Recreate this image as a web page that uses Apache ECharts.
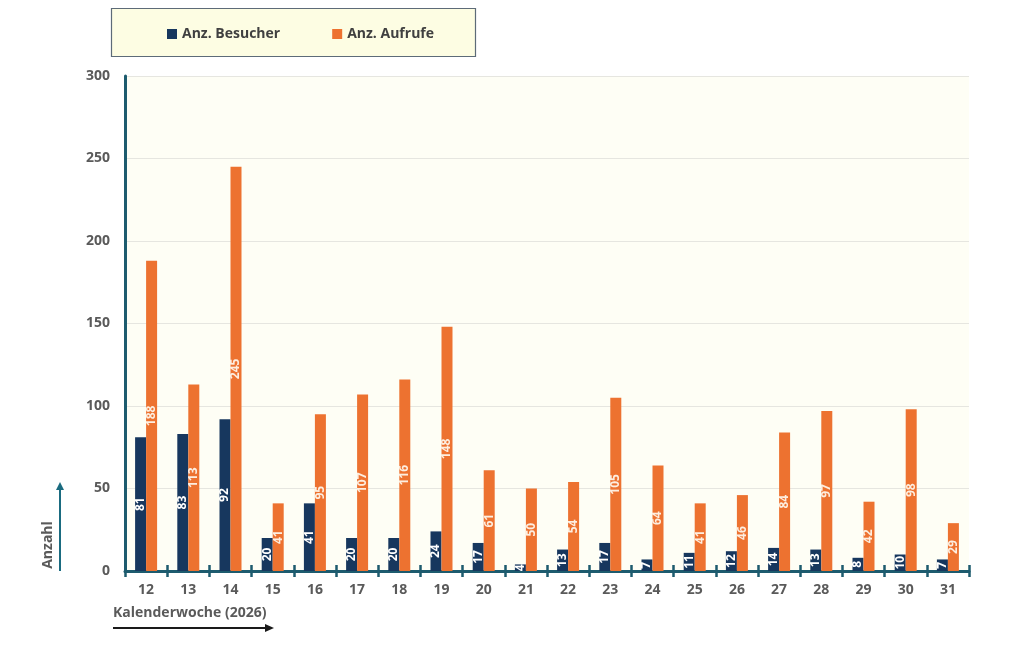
<!DOCTYPE html>
<html>
<head>
<meta charset="utf-8">
<script src="https://cdn.jsdelivr.net/npm/echarts@6/dist/echarts.min.js"></script>
<style>
  html, body { margin: 0; padding: 0; background: #fff; }
  #chart { width: 1024px; height: 662px; }
</style>
</head>
<body>
<div id="chart"></div>
<script>
  var weeks = ['12', '13', '14', '15', '16', '17', '18', '19', '20', '21', '22', '23', '24', '25', '26', '27', '28', '29', '30', '31'];
  var besucher = [81, 83, 92, 20, 41, 20, 20, 24, 17, 4, 13, 17, 7, 11, 12, 14, 13, 8, 10, 7];
  var aufrufe = [188, 113, 245, 41, 95, 107, 116, 148, 61, 50, 54, 105, 64, 41, 46, 84, 97, 42, 98, 29];

  var axisColor = '#1d5b6e';
  var textGray = '#5a5a5a';
  var font = '"Open Sans", Roboto, sans-serif';

  function barLabel(color) {
    return {
      show: true,
      position: 'inside',
      rotate: 90,
      color: color,
      fontFamily: font,
      fontWeight: 'bold',
      fontSize: 12
    };
  }

  var chart = echarts.init(document.getElementById('chart'));
  chart.setOption({
    animation: false,
    textStyle: { fontFamily: font },
    grid: {
      left: 125, right: 55, top: 76, bottom: 91,
      show: true, backgroundColor: '#fefef5', borderWidth: 0
    },
    legend: {
      left: 162, top: 22,
      itemWidth: 10, itemHeight: 10, itemGap: 52,
      icon: 'rect',
      textStyle: { color: '#404040', fontWeight: 'bold', fontSize: 14, fontFamily: font },
      data: ['Anz. Besucher', 'Anz. Aufrufe']
    },
    xAxis: [{
      type: 'category',
      data: weeks,
      axisLine: { lineStyle: { color: axisColor, width: 3 } },
      axisTick: { show: true, length: 6, lineStyle: { color: axisColor, width: 2.5 } },
      axisLabel: { color: textGray, fontWeight: 'bold', fontSize: 14, margin: 12 }
    }, {
      type: 'category',
      data: weeks,
      position: 'bottom',
      axisLine: { show: false },
      axisTick: { show: true, inside: true, length: 6, lineStyle: { color: axisColor, width: 2.5 } },
      axisLabel: { show: false }
    }],
    yAxis: {
      type: 'value',
      min: 0, max: 300, interval: 50,
      axisLine: { show: true, lineStyle: { color: axisColor, width: 3 } },
      axisTick: { show: false },
      axisLabel: { color: textGray, fontWeight: 'bold', fontSize: 14, margin: 15 },
      splitLine: { lineStyle: { color: '#e6e6e0', width: 1 } }
    },
    graphic: [
      {
        type: 'rect', z: -1,
        shape: { x: 111.5, y: 8.5, width: 364, height: 48 },
        style: { fill: '#fdfde3', stroke: '#5d6b78', lineWidth: 1.2 }
      },
      {
        type: 'text',
        x: 48, y: 545, rotation: Math.PI / 2,
        style: { text: 'Anzahl', fill: textGray, font: 'bold 14px ' + font, align: 'center', verticalAlign: 'middle' }
      },
      {
        type: 'line',
        shape: { x1: 60, y1: 571, x2: 60, y2: 488 },
        style: { stroke: '#1a6b80', lineWidth: 2 }
      },
      {
        type: 'polygon',
        shape: { points: [[56, 490], [64, 490], [60, 482]] },
        style: { fill: '#1a6b80' }
      },
      {
        type: 'text',
        x: 113, y: 613,
        style: { text: 'Kalenderwoche (2026)', fill: textGray, font: 'bold 14px ' + font, verticalAlign: 'middle' }
      },
      {
        type: 'line',
        shape: { x1: 113, y1: 628, x2: 266, y2: 628 },
        style: { stroke: '#1a1a1a', lineWidth: 2 }
      },
      {
        type: 'polygon',
        shape: { points: [[265, 624], [265, 632], [274, 628]] },
        style: { fill: '#1a1a1a' }
      }
    ],
    series: [
      {
        name: 'Anz. Besucher',
        type: 'bar',
        data: besucher,
        barWidth: 11,
        barGap: '0%',
        itemStyle: { color: '#17375e' },
        label: barLabel('#ffffff')
      },
      {
        name: 'Anz. Aufrufe',
        type: 'bar',
        data: aufrufe,
        barWidth: 11,
        barGap: '0%',
        itemStyle: { color: '#ed7230' },
        label: barLabel('#fdeee0')
      }
    ]
  });
</script>
</body>
</html>
